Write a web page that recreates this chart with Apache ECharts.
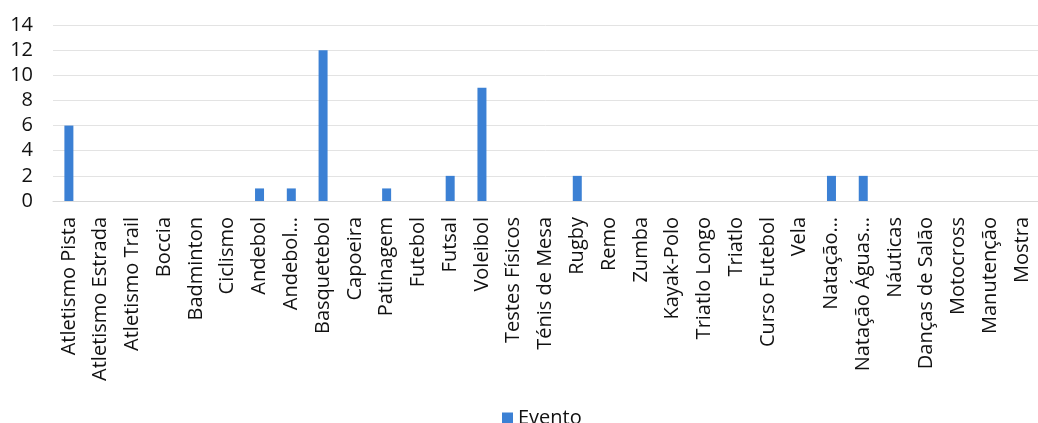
<!DOCTYPE html>
<html>
<head>
<meta charset="utf-8">
<script src="https://cdn.jsdelivr.net/npm/echarts@6/dist/echarts.min.js"></script>
<style>
html,body{margin:0;padding:0;background:#fff;}
#chart{width:1038px;height:423px;}
</style>
</head>
<body>
<div id="chart"></div>
<script>
const categories = ["Atletismo Pista","Atletismo Estrada","Atletismo Trail","Boccia","Badminton","Ciclismo","Andebol","Andebol…","Basquetebol","Capoeira","Patinagem","Futebol","Futsal","Voleibol","Testes Físicos","Ténis de Mesa","Rugby","Remo","Zumba","Kayak-Polo","Triatlo Longo","Triatlo","Curso Futebol","Vela","Natação…","Natação Águas…","Náuticas","Danças de Salão","Motocross","Manutenção","Mostra"];
const evento = [6,0,0,0,0,0,1,1,12,0,1,0,2,9,0,0,2,0,0,0,0,0,0,0,2,2,0,0,0,0,0];
const seriesName = "Evento";

const chart = echarts.init(document.getElementById('chart'));
const font = "'Open Sans', sans-serif";
chart.setOption({
  animation: false,
  textStyle: { fontFamily: font },
  grid: { left: 53, top: 25, width: 989, height: 176, containLabel: false },
  legend: {
    data: [seriesName], left: 497, top: 403,
    icon: 'rect', itemWidth: 11, itemHeight: 11, itemGap: 4,
    textStyle: { fontSize: 20, color: '#111', fontFamily: font }
  },
  xAxis: {
    type: 'category', data: categories,
    axisLine: { show: true, lineStyle: { color: '#d9d9d9', width: 1 } },
    axisTick: { show: false },
    axisLabel: { interval: 0, rotate: 90, margin: 16, fontSize: 20, color: '#111', fontFamily: font }
  },
  yAxis: {
    type: 'value', min: 0, max: 14, interval: 2,
    axisLine: { show: false }, axisTick: { show: false },
    splitLine: { lineStyle: { color: '#e3e3e3', width: 1 } },
    axisLabel: { margin: 20, fontSize: 20, color: '#111', fontFamily: font }
  },
  series: [{
    name: seriesName, type: 'bar', data: evento, barWidth: 9,
    itemStyle: { color: '#3b80d4' }
  }]
});
</script>
</body>
</html>
